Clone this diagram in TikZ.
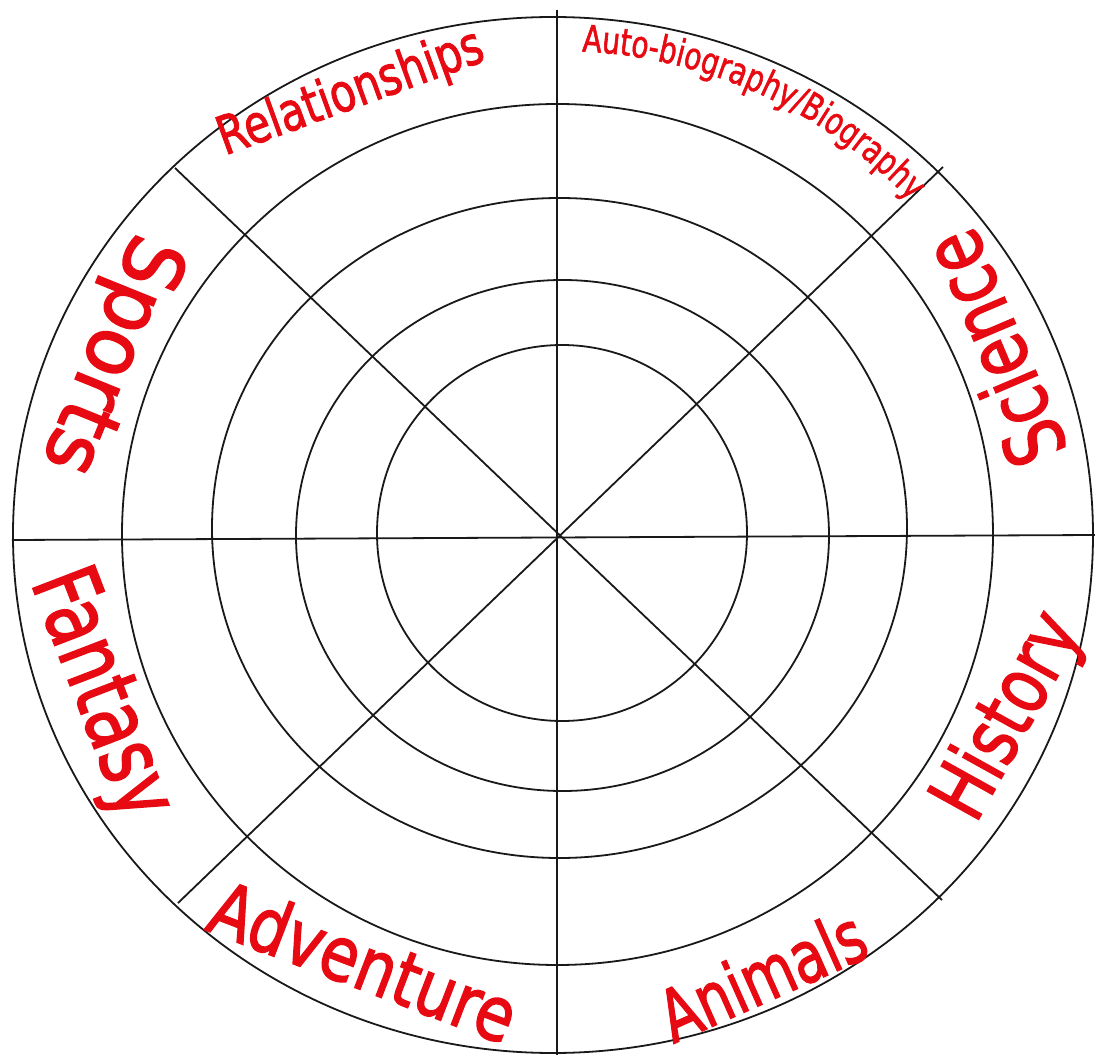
\documentclass[tikz,border=0pt]{standalone}
\usepackage{fontspec}
\usepackage{tikz}
\usetikzlibrary{decorations.text}
\newfontfamily\lblfont[FakeBold=2]{DejaVu Sans}
\newfontfamily\lblnarrow[FakeStretch=0.76,FakeBold=1.5]{DejaVu Sans}
\definecolor{lblred}{RGB}{232,10,18}
\definecolor{ringline}{RGB}{25,25,25}
\tikzset{
wheelring/.style={draw=ringline,line width=1.8pt},
wheelspoke/.style={draw=ringline,line width=1.8pt},
genre/.style={text=lblred,inner sep=0pt,font=\lblfont\fontsize{#1}{#1}\selectfont}
}

\begin{document}
\begin{tikzpicture}[x=1pt,y=1pt]
\fill[white] (-560,-520) rectangle (535,535);
\useasboundingbox (-560,-520) rectangle (535,535);
% rings, outer to inner
\draw[wheelring] (-7,0) ellipse [x radius=540,y radius=518];
\draw[wheelring] (-2.5,0.5) ellipse [x radius=435.5,y radius=430.5];
\draw[wheelring] (-0.5,7) ellipse [x radius=347.5,y radius=330];
\draw[wheelring] (2.5,-0.5) ellipse [x radius=266.5,y radius=255.5];
\draw[wheelring] (2,2) ellipse [x radius=185,y radius=188];
% spokes
\coordinate (north) at (-3,525);
\coordinate (south) at (-3,-520);
\coordinate (west) at (-548,-5);
\coordinate (east) at (535,0);
\coordinate (nw) at (-385,367);
\coordinate (se) at (382,-365);
\coordinate (ne) at (383,368);
\coordinate (sw) at (-382,-368);
\draw[wheelspoke] (north) -- (south);
\draw[wheelspoke] (west) -- (east);
\draw[wheelspoke] (nw) -- (se);
\draw[wheelspoke] (ne) -- (sw);
% genres
\node[genre=53,rotate=20,xscale=0.79] (relationships) at (-209,441) {Relationships};
\path[decorate,decoration={text along path,text align=center,text color=lblred,
  text={|\lblnarrow\fontsize{37}{37}\selectfont|Auto-biography/Biography}}]
  (96:484) arc [start angle=96,end angle=35,radius=484];
\node[genre=82,rotate=113,xscale=0.77] (science) at (433,186) {Science};
\node[genre=80,rotate=61,xscale=0.78] (history) at (450,-182) {History};
\node[genre=72,rotate=24,xscale=0.76] (animals) at (202,-440) {Animals};
\node[genre=75,rotate=-21,xscale=0.83] (adventure) at (-196,-426) {Adventure};
\node[genre=90,rotate=-69,xscale=0.75] (fantasy) at (-461,-160) {Fantasy};
\node[genre=82,rotate=-112,xscale=0.95] (sports) at (-451,181) {Sports};
\end{tikzpicture}
\end{document}
